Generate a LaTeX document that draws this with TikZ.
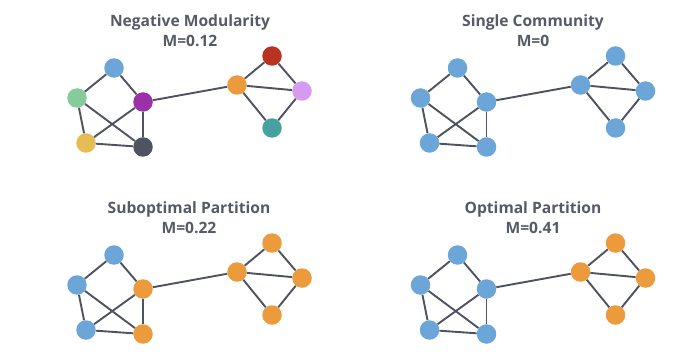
\documentclass[tikz,border=0pt]{standalone}
\usepackage{fontspec}
\setmainfont{Open Sans}
\definecolor{cblue}{HTML}{6CA6D9}
\definecolor{corange}{HTML}{EB9A3C}
\definecolor{cgreen}{HTML}{85CB9C}
\definecolor{cpurple}{HTML}{9B30A8}
\definecolor{cyellow}{HTML}{E6BC55}
\definecolor{cdark}{HTML}{4F5260}
\definecolor{cred}{HTML}{B83322}
\definecolor{clilac}{HTML}{D59BF0}
\definecolor{cteal}{HTML}{48A1A1}
\definecolor{edgegray}{HTML}{4F5260}
\definecolor{titlegray}{HTML}{555A66}
\tikzset{
  vtx/.style={circle,inner sep=0pt,minimum size=19.5pt,fill=#1},
  edge/.style={draw=edgegray,line width=1.9pt},
  ttl/.style={text=titlegray,font=\bfseries\fontsize{15.6}{20}\selectfont,align=center}
}
\newcommand\drawgraph[9]{%
  \node[vtx=#1] (t) at (114,68) {};
  \node[vtx=#2] (l) at (77,98) {};
  \node[vtx=#3] (h) at (143,102) {};
  \node[vtx=#4] (bl) at (86,143) {};
  \node[vtx=#5] (br) at (143,147) {};
  \node[vtx=#6] (rh) at (237,85) {};
  \node[vtx=#7] (rt) at (272,56) {};
  \node[vtx=#8] (rr) at (302,91) {};
  \node[vtx=#9] (rb) at (272,128) {};
  \draw[edge] (t) -- (l);
  \draw[edge] (t) -- (h);
  \draw[edge] (l) -- (bl);
  \draw[edge] (l) -- (br);
  \draw[edge] (h) -- (bl);
  \draw[edge] (h) -- (br);
  \draw[edge] (bl) -- (br);
  \draw[edge] (h) -- (rh);
  \draw[edge] (rh) -- (rt);
  \draw[edge] (rh) -- (rr);
  \draw[edge] (rh) -- (rb);
  \draw[edge] (rt) -- (rr);
  \draw[edge] (rr) -- (rb);
}
\begin{document}
\begin{tikzpicture}[x=1pt,y=-1pt]
\useasboundingbox (0,0) rectangle (700,363);
\node[ttl] (title1) at (190,31) {Negative Modularity\\M=0.12};
\node[ttl] (title2) at (533,31) {Single Community\\M=0};
\node[ttl] (title3) at (189,218) {Suboptimal Partition\\M=0.22};
\node[ttl] (title4) at (533,218) {Optimal Partition\\M=0.41};
\begin{scope}[name prefix=a-]
\drawgraph{cblue}{cgreen}{cpurple}{cyellow}{cdark}{corange}{cred}{clilac}{cteal}
\end{scope}
\begin{scope}[shift={(343.5,0)},name prefix=b-]
\drawgraph{cblue}{cblue}{cblue}{cblue}{cblue}{cblue}{cblue}{cblue}{cblue}
\end{scope}
\begin{scope}[shift={(0,187)},name prefix=c-]
\drawgraph{cblue}{cblue}{corange}{cblue}{corange}{corange}{corange}{corange}{corange}
\end{scope}
\begin{scope}[shift={(343.5,187)},name prefix=d-]
\drawgraph{cblue}{cblue}{cblue}{cblue}{cblue}{corange}{corange}{corange}{corange}
\end{scope}
\end{tikzpicture}
\end{document}
